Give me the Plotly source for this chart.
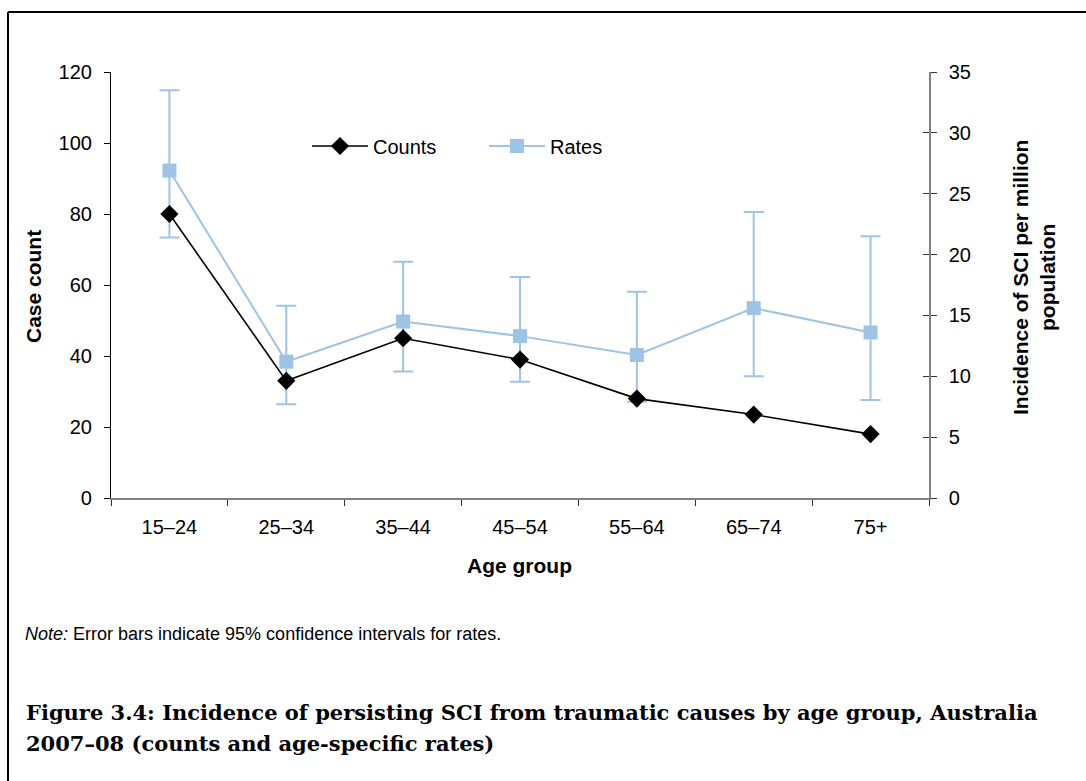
import plotly.graph_objects as go

categories = ["15–24", "25–34", "35–44", "45–54", "55–64", "65–74", "75+"]
counts = [80, 33, 45, 39, 28, 23.5, 18]
rates = [26.9, 11.2, 14.5, 13.3, 11.75, 15.6, 13.6]
rate_upper = [33.5, 15.8, 19.4, 18.15, 16.95, 23.5, 21.5]
rate_lower = [21.4, 7.7, 10.4, 9.55, 7.9, 10.0, 8.05]
left_ticks = [0, 20, 40, 60, 80, 100, 120]
right_ticks = [0, 5, 10, 15, 20, 25, 30, 35]
caption_lines = [
    "Figure 3.4: Incidence of persisting SCI from traumatic causes by age group, Australia",
    "2007–08 (counts and age-specific rates)",
]

W, H = 1086, 781
L, R, T, B = 111, 157, 72, 283
PW, PH = W - L - R, H - T - B

def px(x):
    return (x - L) / PW

def py(y):
    return (H - B - y) / PH

FONT = "Liberation Sans, Arial, sans-serif"
BLUE = "#9DC3E6"
TICK = 20

fig = go.Figure()
fig.add_trace(go.Scatter(
    x=categories, y=rates, name="Rates", yaxis="y2",
    mode="lines+markers",
    line=dict(color=BLUE, width=2),
    marker=dict(symbol="square", size=14, color=BLUE),
    error_y=dict(type="data", symmetric=False,
                 array=[u - r for u, r in zip(rate_upper, rates)],
                 arrayminus=[r - l for r, l in zip(rates, rate_lower)],
                 color=BLUE, thickness=2, width=10),
))
fig.add_trace(go.Scatter(
    x=categories, y=counts, name="Counts", yaxis="y",
    mode="lines+markers",
    line=dict(color="black", width=1.6),
    marker=dict(symbol="diamond", size=14, color="black"),
))
fig.add_trace(go.Scatter(x=[categories[0]], y=[None], yaxis="y3", showlegend=False, hoverinfo="skip"))

fig.update_layout(
    width=W, height=H,
    margin=dict(l=L, r=R, t=T, b=B),
    paper_bgcolor="white", plot_bgcolor="white",
    font=dict(family=FONT, size=TICK, color="black"),
    showlegend=True,
    legend=dict(orientation="h", x=px(307), y=py(146), xanchor="left", yanchor="middle",
                traceorder="reversed", entrywidth=106, entrywidthmode="pixels",
                itemwidth=56,
                font=dict(size=TICK), bgcolor="rgba(0,0,0,0)"),
    xaxis=dict(type="category", range=[-0.5, 6.5], showgrid=False, zeroline=False,
               showline=True, linecolor="#808080", linewidth=1.5,
               ticks="outside", tickson="boundaries", ticklen=6, tickcolor="#333",
               tickfont=dict(size=TICK), ticklabelstandoff=10),
    yaxis=dict(range=[0, 120], tickvals=left_ticks, showgrid=False, zeroline=False,
               showline=True, linecolor="black", linewidth=1.2,
               ticks="outside", ticklen=6, tickcolor="black",
               tickfont=dict(size=TICK), ticklabelstandoff=8,
               overlaying="y2", side="left"),
    yaxis2=dict(range=[0, 35], tickvals=right_ticks, showgrid=False, zeroline=False,
                showline=True, linecolor="#808080", linewidth=1.5,
                ticks="outside", ticklen=6, tickcolor="#333",
                tickfont=dict(size=TICK), ticklabelstandoff=8, side="right", anchor="x"),
    yaxis3=dict(range=[0, 35], tickvals=right_ticks, showgrid=False, zeroline=False,
                showticklabels=False, ticks="inside", ticklen=6, tickcolor="#333",
                overlaying="y2", side="right", anchor="x"),
)

annotations = [
    dict(text="<b>Case count</b>", x=px(33), y=py(287), textangle=-90,
         font=dict(size=21)),
    dict(text="<b>Incidence of SCI per million<br>population</b>", x=px(1034), y=py(278),
         textangle=-90, font=dict(size=21)),
    dict(text="<b>Age group</b>", x=px(519), y=py(565), font=dict(size=21)),
    dict(text="<i>Note:</i> Error bars indicate 95% confidence intervals for rates.",
         x=px(23), y=py(634), xanchor="left", font=dict(size=18)),
]
for i, line in enumerate(caption_lines):
    annotations.append(dict(text="<b>" + line + "</b>", x=px(24), y=py(712 + 31 * i),
                            xanchor="left", font=dict(family="DejaVu Serif, serif", size=21)))
for a in annotations:
    a.setdefault("xref", "paper")
    a.setdefault("yref", "paper")
    a.setdefault("showarrow", False)
    a.setdefault("xanchor", "center")
    a.setdefault("yanchor", "middle")
fig.update_layout(annotations=annotations)

# frame (top and left edges)
fig.add_shape(type="line", xref="paper", yref="paper", x0=px(8), x1=px(1090), y0=py(12), y1=py(12),
              line=dict(color="black", width=2))
fig.add_shape(type="line", xref="paper", yref="paper", x0=px(8), x1=px(8), y0=py(12), y1=py(790),
              line=dict(color="black", width=2))

fig.write_html("out.html")
